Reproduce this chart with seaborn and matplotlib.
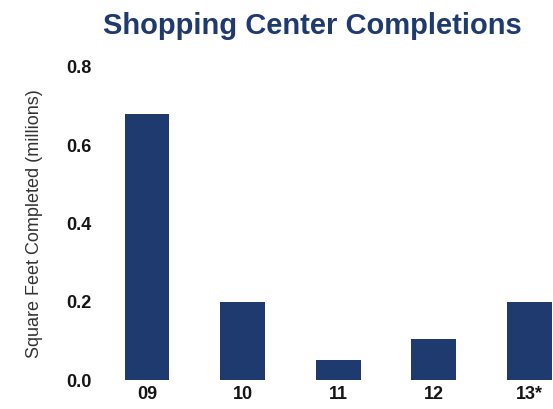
import matplotlib
matplotlib.use("Agg")
import matplotlib.pyplot as plt
import seaborn as sns
import pandas as pd

years = ["09", "10", "11", "12", "13*"]
completions = [0.68, 0.20, 0.05, 0.105, 0.20]
y_ticks = [0.0, 0.2, 0.4, 0.6, 0.8]

navy = "#1f3a6e"

sns.set_theme(style="white")
plt.rcParams["font.family"] = ["Liberation Sans", "DejaVu Sans"]

df = pd.DataFrame({"year": years, "sqft": completions})

fig = plt.figure(figsize=(5.53, 4.09), dpi=100)
ax = fig.add_axes([0.1795, 0.0709, 0.8205, 0.7653])
sns.barplot(data=df, x="year", y="sqft", color=navy, saturation=1, width=0.47,
            linewidth=0, ax=ax)

ax.set_xlim(-0.5, 4.25)
ax.set_ylim(0, 0.8)
ax.set_yticks(y_ticks)
ax.set_yticklabels([f"{v:.1f}" for v in y_ticks], fontweight="bold",
                   fontsize=13, color="#151515")
ax.set_xticks(range(len(years)))
ax.set_xticklabels(years, fontweight="bold", fontsize=13, color="#151515")
ax.tick_params(axis="both", length=0)
ax.tick_params(axis="y", pad=5.5)
ax.tick_params(axis="x", pad=4)
for s in ax.spines.values():
    s.set_visible(False)

ax.set_xlabel("")
ax.set_ylabel("Square Feet Completed (millions)", fontsize=13, color="#333333",
              labelpad=17)

fig.text(0.565, 0.937, "Shopping Center Completions", ha="center", va="center",
         fontsize=21, fontweight="bold", color=navy)

fig.savefig("out.png", dpi=100)
